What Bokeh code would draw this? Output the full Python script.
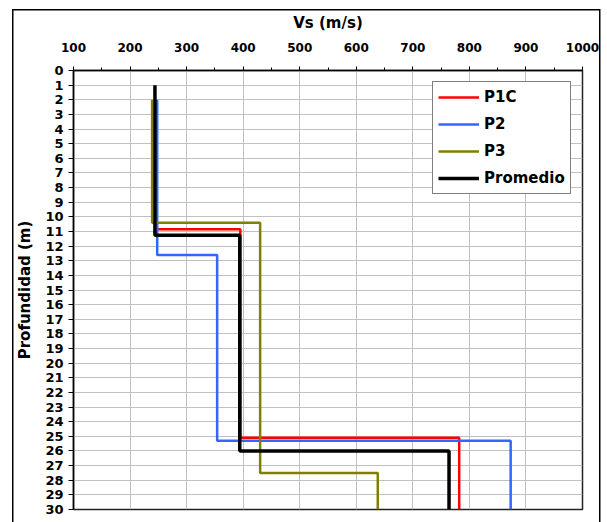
from bokeh.plotting import figure
from bokeh.models import Range1d, FixedTicker, Legend, LegendItem
from bokeh.embed import file_html
from bokeh.resources import INLINE

# ---- data (layer boundaries in m, shear-wave velocity per layer in m/s) ----
p1c_depth = [2, 10.85, 25.1, 30]
p1c_vs = [246, 395, 782]
p2_depth = [2, 12.6, 25.3, 30]
p2_vs = [248, 354, 873]
p3_depth = [2, 10.4, 27.5, 30]
p3_vs = [239, 430, 638]
prom_depth = [1, 11.25, 26, 30]
prom_vs = [244, 394, 764]

x_ticks = [100, 200, 300, 400, 500, 600, 700, 800, 900, 1000]
x_minor = [150, 250, 350, 450, 550, 650, 750, 850, 950]
y_ticks = list(range(0, 31))


def step(depths, vs):
    xs, ys = [], []
    for i, v in enumerate(vs):
        xs += [v, v]
        ys += [depths[i], depths[i + 1]]
    return xs, ys


W, H = 607, 522
FL, FR, FT, FB = 73, 582, 70, 509

p = figure(width=W, height=H, output_backend="svg", toolbar_location=None,
           x_range=Range1d(100, 1000), y_range=Range1d(30, 0),
           x_axis_location="above",
           min_border_left=FL, min_border_right=W - FR,
           min_border_top=FT, min_border_bottom=H - FB)
p.background_fill_color = "white"
p.border_fill_color = None
p.outline_line_color = "#222222"
p.outline_line_width = 1.5

# outer chart-area border (drawn by the page behind the transparent canvas border)
p.styles = {
    "background": (
        "linear-gradient(#000,#000) 12px 9px / 1.5px 620px no-repeat, "
        "linear-gradient(#000,#000) 12px 9px / 588px 1.5px no-repeat, "
        "linear-gradient(#000,#000) 599px 9px / 1.5px 620px no-repeat, "
        "#ffffff"
    )
}

xa = p.xaxis[0]
xa.ticker = FixedTicker(ticks=x_ticks, minor_ticks=x_minor)
xa.axis_label = "Vs (m/s)"
xa.axis_label_text_font = "DejaVu Sans"
xa.axis_label_text_font_style = "bold"
xa.axis_label_text_font_size = "15px"
xa.axis_label_text_color = "black"
xa.axis_label_standoff = 8
xa.major_label_text_font = "DejaVu Sans"
xa.major_label_text_font_style = "bold"
xa.major_label_text_font_size = "12px"
xa.major_label_text_color = "black"
xa.major_label_standoff = 15
xa.major_tick_out = 4
xa.major_tick_in = 0
xa.minor_tick_out = 3
xa.minor_tick_in = 0
xa.axis_line_color = "black"
xa.axis_line_width = 1.5
xa.major_tick_line_color = "black"
xa.minor_tick_line_color = "black"

ya = p.yaxis[0]
ya.ticker = FixedTicker(ticks=y_ticks, minor_ticks=[])
ya.axis_label = "Profundidad (m)"
ya.axis_label_text_font = "DejaVu Sans"
ya.axis_label_text_font_style = "bold"
ya.axis_label_text_font_size = "15px"
ya.axis_label_text_color = "black"
ya.axis_label_standoff = 8
ya.major_label_text_font = "DejaVu Sans"
ya.major_label_text_font_style = "bold"
ya.major_label_text_font_size = "13px"
ya.major_label_text_color = "black"
ya.major_label_standoff = 5
ya.major_tick_out = 5
ya.major_tick_in = 0
ya.minor_tick_out = 0
ya.minor_tick_in = 0
ya.axis_line_color = "black"
ya.axis_line_width = 1.5
ya.major_tick_line_color = "black"

p.xgrid.ticker = FixedTicker(ticks=x_ticks)
p.ygrid.ticker = FixedTicker(ticks=y_ticks)
p.xgrid.grid_line_color = "#c0c0c0"
p.ygrid.grid_line_color = "#c0c0c0"
p.xgrid.grid_line_width = 1
p.ygrid.grid_line_width = 1

series = [
    ("P1C", p1c_depth, p1c_vs, "#ff0000", 2.5),
    ("P2", p2_depth, p2_vs, "#3366ff", 2.5),
    ("P3", p3_depth, p3_vs, "#808000", 2.5),
    ("Promedio", prom_depth, prom_vs, "#000000", 3.5),
]
items = []
for name, d, v, c, lw in series:
    xs, ys = step(d, v)
    r = p.line(xs, ys, line_color=c, line_width=lw)
    items.append(LegendItem(label=name, renderers=[r]))

legend = Legend(items=items, location=(359, 315),
                glyph_width=41, glyph_height=20, label_height=20,
                label_standoff=5, spacing=7, padding=5, margin=0,
                label_text_font="DejaVu Sans", label_text_font_style="bold",
                label_text_font_size="15px", label_text_color="black",
                border_line_color="black", border_line_width=1,
                background_fill_color="white", background_fill_alpha=1)
p.add_layout(legend, "center")

open("out.html", "w").write(file_html(p, INLINE))
